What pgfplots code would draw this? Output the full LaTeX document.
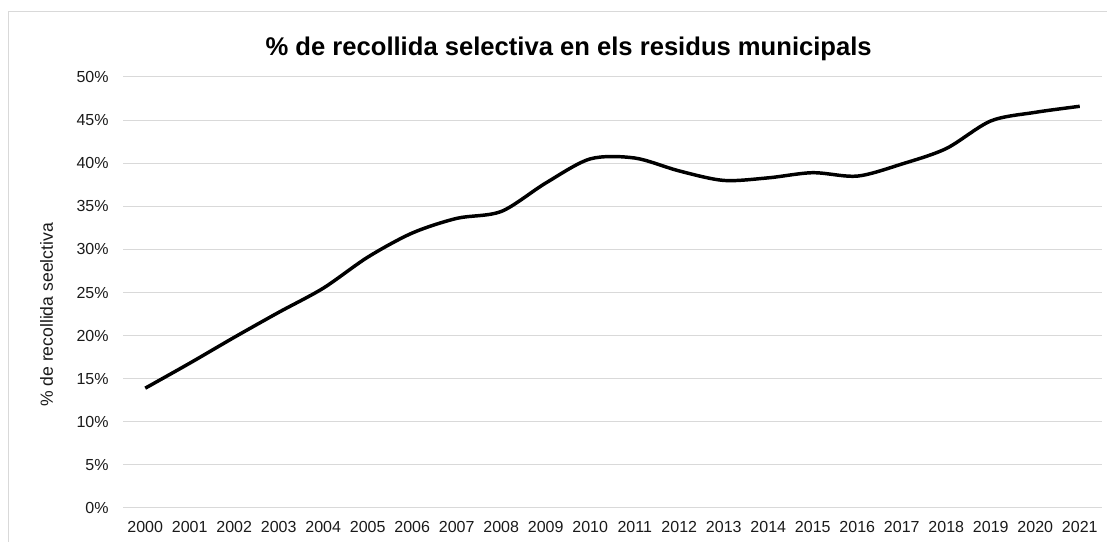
\documentclass[border=0pt]{standalone}
\usepackage{pgfplots}
\pgfplotsset{compat=1.18}
\usepackage{fontspec}
\setmainfont{Liberation Sans}
\definecolor{gridgray}{HTML}{D9D9D9}
\definecolor{txtgray}{HTML}{1A1A1A}
\begin{document}
\begin{tikzpicture}
\useasboundingbox (0,0) rectangle (830.25pt,406.5pt);
\draw[gridgray, line width=0.75pt] (6pt,0pt) -- (6pt,397.5pt) -- (830.25pt,397.5pt);
\begin{axis}[
  at={(92.25pt,25.5pt)}, anchor=south west,
  scale only axis, width=734.25pt, height=323.25pt,
  xmin=-0.5, xmax=21.5, ymin=0, ymax=50,
  xtick={0,...,21},
  xticklabels={2000,2001,2002,2003,2004,2005,2006,2007,2008,2009,2010,2011,2012,2013,2014,2015,2016,2017,2018,2019,2020,2021},
  ytick={0,5,...,50},
  yticklabel={\pgfmathprintnumber{\tick}\%},
  /pgf/number format/assume math mode=true,
  ymajorgrids, grid style={gridgray, line width=0.75pt},
  axis line style={draw=none},
  major tick length=0pt,
  tick label style={font=\fontsize{12}{14}\selectfont, text=txtgray},
  yticklabel style={xshift=-7.25pt},
  xticklabel style={yshift=-6.5pt},
  clip=false,
]
\addplot[black, line width=2.6pt, smooth, tension=0.5] coordinates {
(0,13.9) (1,16.8) (2,19.8) (3,22.7) (4,25.5) (5,29.1) (6,31.9) (7,33.6) (8,34.4) (9,37.7)
(10,40.5) (11,40.6) (12,39.1) (13,38.0) (14,38.3) (15,38.9) (16,38.5) (17,39.9) (18,41.7) (19,44.9)
(20,45.9) (21,46.6)
};
\end{axis}
\node[font=\bfseries\fontsize{19.2}{22}\selectfont] at (426.5pt,370pt) {\% de recollida selectiva en els residus municipals};
\node[rotate=90, font=\fontsize{13.2}{15}\selectfont, text=txtgray] at (35pt,170.25pt) {\% de recollida seelctiva};
\end{tikzpicture}
\end{document}
